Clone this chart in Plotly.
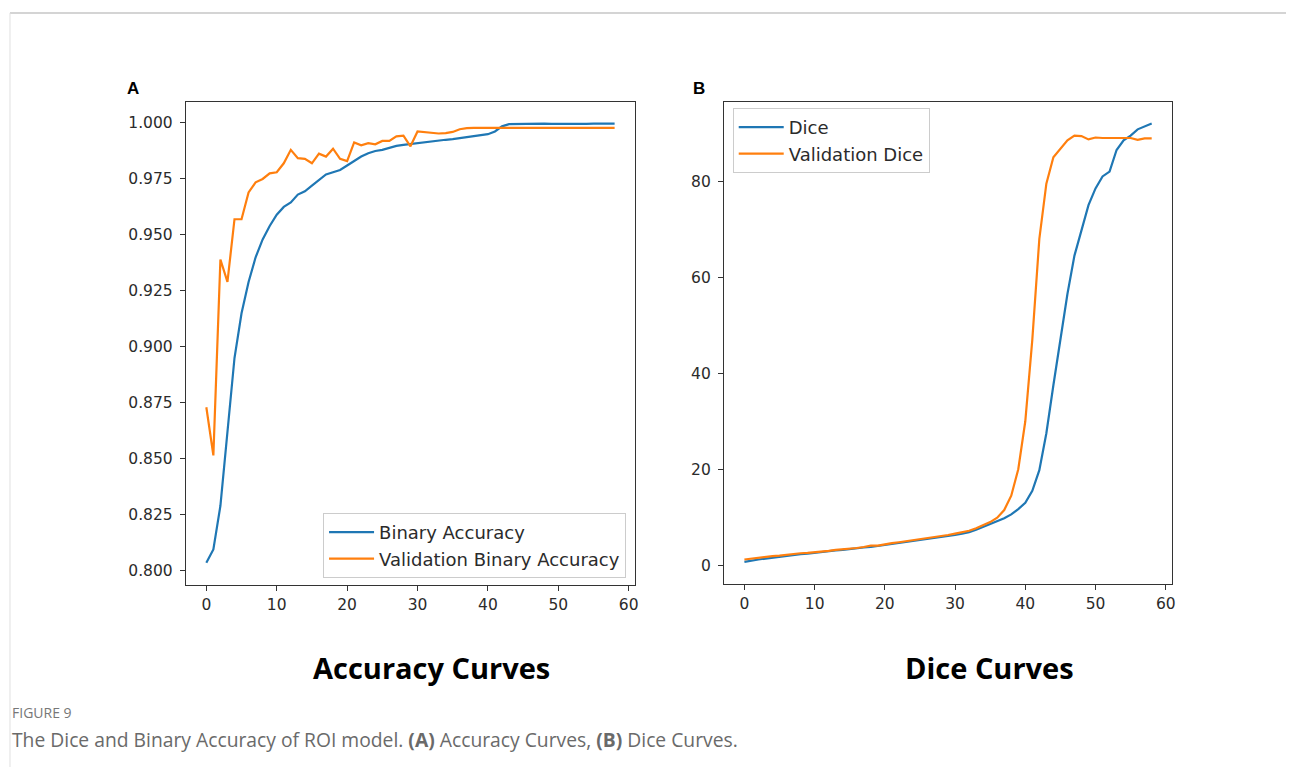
import plotly.graph_objects as go

# ---------------- data ----------------
epochs = list(range(59))

train_acc = [0.8035, 0.8095, 0.829, 0.862, 0.895, 0.915, 0.929, 0.940, 0.948, 0.954,
             0.959, 0.9625, 0.9645, 0.968, 0.9695, 0.972, 0.9745, 0.977, 0.978, 0.979,
             0.981, 0.983, 0.985, 0.9865, 0.9875, 0.988, 0.989, 0.9898, 0.9902, 0.9906,
             0.991, 0.9915, 0.992, 0.9922, 0.9925, 0.9928, 0.9933, 0.9937, 0.9942, 0.9947,
             0.995, 0.9962, 0.9985, 0.9995, 0.9996, 0.9997, 0.9997, 0.9998, 0.9997, 0.9996,
             0.9996, 0.9995, 0.9993, 0.9995, 0.9996, 0.9997, 0.9997, 0.9997, 0.9997]

val_acc = [0.873, 0.8515, 0.939, 0.929, 0.957, 0.957, 0.969, 0.9735, 0.975, 0.9775,
           0.978, 0.982, 0.988, 0.9843, 0.984, 0.982, 0.9863, 0.985, 0.9885, 0.984,
           0.983, 0.9913, 0.990, 0.991, 0.9905, 0.992, 0.992, 0.994, 0.9943, 0.9896,
           0.9962, 0.9958, 0.9955, 0.9953, 0.9955, 0.996, 0.9972, 0.9977, 0.9978, 0.9978,
           0.9978, 0.9978, 0.9978, 0.9978, 0.9978, 0.9978, 0.9978, 0.9978, 0.9978, 0.9978,
           0.9978, 0.9978, 0.9978, 0.9978, 0.9978, 0.9978, 0.9978, 0.9978, 0.9978]

dice = [0.7, 1.0, 1.2, 1.4, 1.6, 1.8, 2.0, 2.1, 2.3, 2.4,
        2.6, 2.8, 2.9, 3.1, 3.2, 3.4, 3.5, 3.7, 3.8, 4.0,
        4.2, 4.4, 4.6, 4.8, 5.0, 5.2, 5.4, 5.7, 5.9, 6.1,
        6.3, 6.6, 6.9, 7.4, 8.0, 8.6, 9.1, 9.8, 10.6, 11.7,
        13.0, 15.5, 19.8, 27.5, 37.5, 47.0, 56.5, 64.5, 70.0, 75.0,
        78.5, 81.0, 82.0, 86.5, 88.5, 89.5, 90.8, 91.4, 92.0]

val_dice = [1.2, 1.4, 1.6, 1.7, 1.9, 2.0, 2.2, 2.3, 2.5, 2.6,
            2.7, 2.9, 3.0, 3.2, 3.3, 3.5, 3.6, 3.8, 4.1, 4.1,
            4.4, 4.6, 4.8, 5.0, 5.2, 5.4, 5.7, 5.9, 6.1, 6.3,
            6.6, 6.9, 7.2, 7.7, 8.4, 9.0, 9.9, 11.5, 14.5, 20.0,
            30.0, 47.0, 68.0, 79.5, 85.0, 86.8, 88.5, 89.5, 89.4, 88.7,
            89.1, 89.0, 89.0, 89.0, 89.0, 89.0, 88.6, 88.9, 88.9]

acc_ticks = [0.800, 0.825, 0.850, 0.875, 0.900, 0.925, 0.950, 0.975, 1.000]
dice_ticks = [0, 20, 40, 60, 80]
epoch_ticks = [0, 10, 20, 30, 40, 50, 60]

# ---------------- figure ----------------
W, H = 1290, 767
BLUE, ORANGE = "#1f77b4", "#ff7f0e"
TICKFONT = dict(family="DejaVu Sans", size=15.5, color="#2b2b2b")
LEGFONT = dict(family="DejaVu Sans", size=18, color="#2b2b2b")

fig = go.Figure()
fig.add_trace(go.Scatter(x=epochs, y=train_acc, mode="lines", name="Binary Accuracy",
                         line=dict(color=BLUE, width=2.2), xaxis="x", yaxis="y",
                         legend="legend", legendgroup="a1"))
fig.add_trace(go.Scatter(x=epochs, y=val_acc, mode="lines", name="Validation Binary Accuracy",
                         line=dict(color=ORANGE, width=2.2), xaxis="x", yaxis="y",
                         legend="legend", legendgroup="a2"))
fig.add_trace(go.Scatter(x=epochs, y=dice, mode="lines", name="Dice",
                         line=dict(color=BLUE, width=2.2), xaxis="x2", yaxis="y2",
                         legend="legend2", legendgroup="b1"))
fig.add_trace(go.Scatter(x=epochs, y=val_dice, mode="lines", name="Validation Dice",
                         line=dict(color=ORANGE, width=2.2), xaxis="x2", yaxis="y2",
                         legend="legend2", legendgroup="b2"))

def px_x(p):
    return p / W

def px_y(p):
    return 1 - p / H

axis_common = dict(showline=True, linecolor="#333333", linewidth=1.3, mirror=True,
                   ticks="outside", ticklen=5, tickwidth=1.2, tickcolor="#333333",
                   showgrid=False, zeroline=False, tickfont=TICKFONT)

fig.update_layout(
    width=W, height=H,
    margin=dict(l=0, r=0, t=0, b=0),
    paper_bgcolor="white", plot_bgcolor="white",
    xaxis=dict(domain=[px_x(186.5), px_x(637)], range=[-2.9, 60.9],
               tickvals=epoch_ticks, anchor="y", **axis_common),
    yaxis=dict(domain=[px_y(585), px_y(101.5)], range=[0.7936, 1.0096],
               tickvals=acc_ticks, tickformat=".3f", anchor="x",
               ticklabelstandoff=4, **axis_common),
    xaxis2=dict(domain=[px_x(726.3), px_x(1175.7)], range=[-2.9, 60.9],
                tickvals=epoch_ticks, anchor="y2", **axis_common),
    yaxis2=dict(domain=[px_y(584), px_y(101.5)], range=[-3.9, 96.6],
                tickvals=dice_ticks, anchor="x2", ticklabelstandoff=4, **axis_common),
    legend=dict(x=px_x(628), y=px_y(578), xanchor="right", yanchor="bottom",
                bgcolor="white", bordercolor="#cccccc", borderwidth=1,
                font=LEGFONT, traceorder="grouped", tracegroupgap=0, itemwidth=45),
    legend2=dict(x=px_x(735), y=px_y(108), xanchor="left", yanchor="top",
                 bgcolor="white", bordercolor="#cccccc", borderwidth=1,
                 font=LEGFONT, traceorder="grouped", tracegroupgap=0, itemwidth=45),
    showlegend=True,
)

annotations = [
    dict(text="<b>A</b>", x=px_x(125), y=px_y(88), xanchor="left", yanchor="middle",
         font=dict(family="Liberation Sans", size=17, color="black")),
    dict(text="<b>B</b>", x=px_x(693), y=px_y(88), xanchor="left", yanchor="middle",
         font=dict(family="Liberation Sans", size=17, color="black")),
    dict(text="<b>Accuracy Curves</b>", x=px_x(433), y=px_y(667), xanchor="center",
         yanchor="middle", font=dict(family="Open Sans", size=29, color="black")),
    dict(text="<b>Dice Curves</b>", x=px_x(993), y=px_y(667), xanchor="center",
         yanchor="middle", font=dict(family="Open Sans", size=29, color="black")),
    dict(text="FIGURE 9", x=px_x(10), y=px_y(712), xanchor="left", yanchor="middle",
         font=dict(family="Open Sans", size=14, color="#777777")),
    dict(text="The Dice and Binary Accuracy of ROI model. <b>(A)</b> Accuracy Curves, "
              "<b>(B)</b> Dice Curves.",
         x=px_x(10), y=px_y(739), xanchor="left", yanchor="middle",
         font=dict(family="Open Sans", size=19.3, color="#6a6a6a")),
]
for a in annotations:
    a.update(xref="paper", yref="paper", showarrow=False)
fig.update_layout(annotations=annotations)

# page frame lines
fig.add_shape(type="line", xref="paper", yref="paper", x0=px_x(10), x1=1, y0=px_y(13),
              y1=px_y(13), line=dict(color="#d4d4d4", width=2))
fig.add_shape(type="line", xref="paper", yref="paper", x0=px_x(10), x1=px_x(10),
              y0=px_y(13), y1=0, line=dict(color="#e0e0e0", width=1))

fig.write_html("out.html", config={"displayModeBar": False},
               post_script="document.body.style.margin='0';")
